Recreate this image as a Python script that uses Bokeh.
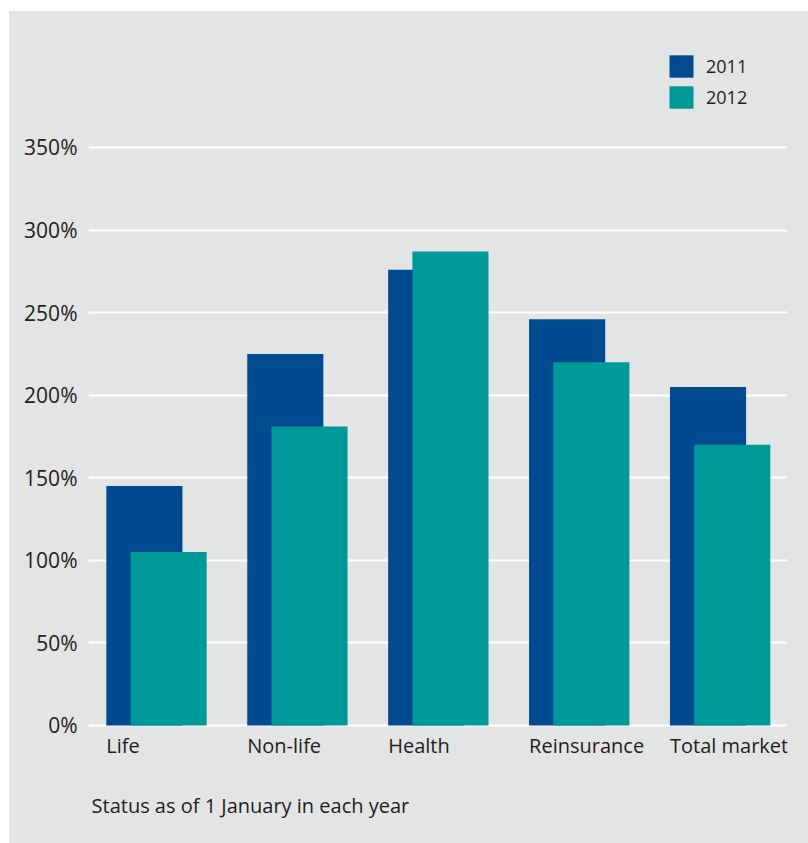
from bokeh.plotting import figure
from bokeh.models import ColumnDataSource, FixedTicker, Range1d, Label
from bokeh.core.properties import value
from bokeh.embed import file_html
from bokeh.resources import INLINE

categories = ["Life", "Non-life", "Health", "Reinsurance", "Total market"]
ratio_2011 = [145, 225, 276, 246, 205]
ratio_2012 = [105, 181, 287, 220, 170]
y_ticks = [0, 50, 100, 150, 200, 250, 300, 350]
y_tick_labels = ["0%", "50%", "100%", "150%", "200%", "250%", "300%", "350%"]
footnote = "Status as of 1 January in each year"

BG = "#e3e4e4"
C2011 = "#004b8f"
C2012 = "#009999"
TXT = "#1e1e1e"
FONT = "Open Sans"

idx = list(range(len(categories)))
bar_w = 0.54
off = 0.086

src = ColumnDataSource(dict(
    x11=[i - off for i in idx],
    x12=[i + off for i in idx],
    v11=ratio_2011,
    v12=ratio_2012,
))

# canvas starts at page (9, 11); frame spans page x 88..787, y 11..843
p = figure(width=799, height=832, output_backend="svg", toolbar_location=None,
           x_range=Range1d(-0.4826, 4.478), y_range=Range1d(-71.45, 432.3),
           x_axis_location=None, y_axis_location="left",
           min_border_left=79, min_border_right=21, min_border_top=0, min_border_bottom=0)
p.margin = (11, 0, 0, 9)
p.styles = {"background-color": BG}
p.background_fill_color = None
p.border_fill_color = None
p.outline_line_color = None

p.xgrid.visible = False
p.yaxis.ticker = FixedTicker(ticks=y_ticks)
p.yaxis.major_label_overrides = {t: l for t, l in zip(y_ticks, y_tick_labels)}
p.yaxis.axis_line_color = None
p.yaxis.major_tick_line_color = None
p.yaxis.minor_tick_line_color = None
p.yaxis.major_tick_out = 0
p.yaxis.major_tick_in = 0
p.yaxis.major_label_standoff = 11
p.yaxis.major_label_text_font = FONT
p.yaxis.major_label_text_font_size = "21px"
p.yaxis.major_label_text_color = TXT
p.ygrid.grid_line_color = "white"
p.ygrid.grid_line_width = 2

p.vbar(x="x11", top="v11", bottom=0, width=bar_w, source=src, fill_color=C2011,
       line_color=None, legend_label="2011")
p.vbar(x="x12", top="v12", bottom=0, width=bar_w, source=src, fill_color=C2012,
       line_color=None, legend_label="2012")

lab_src = ColumnDataSource(dict(x=[i - off - bar_w / 2 for i in idx],
                                y=[-12.1] * len(idx), t=categories))
p.text(x="x", y="y", text="t", source=lab_src, text_font=value(FONT),
       text_font_size="20px", text_color=TXT, text_align="left",
       text_baseline="alphabetic")

p.add_layout(Label(x=-0.461, y=-48.4, text=footnote, text_font=FONT,
                   text_font_size="20px", text_color=TXT, text_align="left",
                   text_baseline="alphabetic"))

lg = p.legend[0]
lg.location = (578, 732)
lg.padding = 0
lg.margin = 0
lg.spacing = 3
lg.glyph_width = 30
lg.glyph_height = 28
lg.label_standoff = 10
lg.label_text_font = FONT
lg.label_text_font_size = "18px"
lg.label_text_color = TXT
lg.border_line_color = None
lg.background_fill_alpha = 0

open("out.html", "w").write(file_html(p, INLINE))
